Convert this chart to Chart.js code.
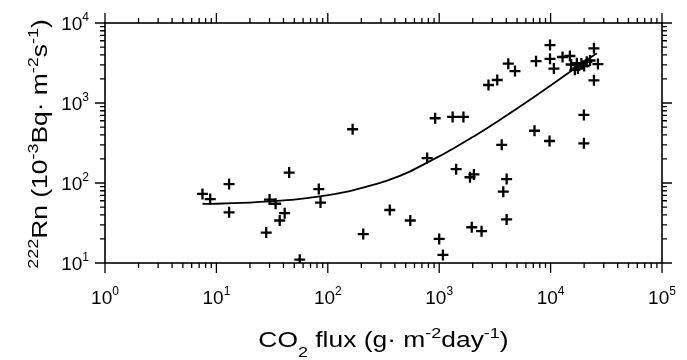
<!DOCTYPE html>
<html>
<head>
<meta charset="utf-8">
<script src="https://cdn.jsdelivr.net/npm/chart.js@4.4.1/dist/chart.umd.min.js"></script>
<style>
  html, body { margin: 0; padding: 0; background: #fff; }
  #wrap { width: 687px; height: 360px; }
</style>
</head>
<body>
<div id="wrap"><canvas id="rnChart" width="687" height="360"></canvas></div>
<script>
// CO2 flux (x) and 222Rn flux (y) of each sample
const fluxX = [7.5, 8.8, 13, 13, 30, 34, 45, 41, 37, 28, 56, 83, 86, 167, 208, 360, 550, 780,
  920, 1320, 1650, 1420, 1000, 1080, 1890, 2050, 1960, 2400, 4030, 3760, 4030, 3640, 2770,
  3320, 4170, 4790, 7170, 7400, 9880, 9880, 10700, 9780, 12800, 14900, 15300, 17600, 18900,
  21100, 22600, 24500, 26600, 24500, 19900, 19900, 17200, 16500, 20000];
const radonY = [73, 63, 97, 43, 62, 55, 135, 42, 34, 24, 11, 84, 57, 470, 23, 46, 34, 205,
  645, 670, 670, 149, 20, 12.6, 118, 128, 28, 25, 112, 78, 35, 300, 1680,
  1940, 3100, 2510, 450, 3330, 5300, 3570, 2690, 335, 3760, 3870, 3030, 2700, 3120,
  3280, 3400, 4830, 3070, 1920, 710, 313, 3140, 2600, 2900];

// fitted curve
const fitX = [7.5, 10, 20, 30, 50, 85, 150, 250, 360, 550, 780, 1000, 1400, 2000, 3000,
  3600, 5000, 7000, 10000, 14000, 20000, 26000];
const fitY = [55, 55, 57, 59, 62, 68, 78, 94, 110, 140, 180, 215, 280, 375, 535,
  630, 855, 1175, 1650, 2300, 3250, 4200];

// decade exponents used for tick labels
const xExps = [0, 1, 2, 3, 4, 5];
const yExps = [1, 2, 3, 4];

const FONT = '"Liberation Sans", Arial, sans-serif';

// draw text made of runs (normal / sup / sub), stretched horizontally
function drawRich(ctx, runs, x, y, size, stretch, align) {
  const small = Math.round(size * 0.7);
  ctx.save();
  ctx.translate(x, y);
  ctx.scale(stretch, 1);
  let total = 0;
  runs.forEach(r => {
    ctx.font = (r.sup || r.sub ? small : size) + "px " + FONT;
    r.w = ctx.measureText(r.t).width;
    total += r.w;
  });
  let cx = align === "center" ? -total / 2 : align === "right" ? -total : 0;
  ctx.textAlign = "left";
  ctx.textBaseline = "alphabetic";
  runs.forEach(r => {
    ctx.font = (r.sup || r.sub ? small : size) + "px " + FONT;
    const dy = r.sup ? -size * 0.42 : r.sub ? size * 0.45 : 0;
    ctx.fillText(r.t, cx, dy);
    cx += r.w;
  });
  ctx.restore();
}

const frameAxes = {
  id: "frameAxes",
  afterDraw(chart) {
    const ctx = chart.ctx;
    const { left, right, top, bottom } = chart.chartArea;
    const xs = chart.scales.x;
    const ys = chart.scales.y;
    ctx.save();
    ctx.strokeStyle = "#000";
    ctx.fillStyle = "#000";
    ctx.lineWidth = 1.6;
    ctx.strokeRect(left, top, right - left, bottom - top);

    ctx.lineWidth = 1.3;
    ctx.beginPath();
    // x ticks, bottom + top, pointing out
    for (let d = xExps[0]; d <= xExps[xExps.length - 1]; d++) {
      for (let m = 1; m <= 9; m++) {
        if (d === xExps[xExps.length - 1] && m > 1) break;
        const px = xs.getPixelForValue(m * Math.pow(10, d));
        const len = m === 1 ? 10 : 5;
        ctx.moveTo(px, bottom); ctx.lineTo(px, bottom + len);
        ctx.moveTo(px, top); ctx.lineTo(px, top - len);
      }
    }
    // y ticks, left + right
    for (let d = yExps[0]; d <= yExps[yExps.length - 1]; d++) {
      for (let m = 1; m <= 9; m++) {
        if (d === yExps[yExps.length - 1] && m > 1) break;
        const py = ys.getPixelForValue(m * Math.pow(10, d));
        const len = m === 1 ? 10 : 5;
        ctx.moveTo(left, py); ctx.lineTo(left - len, py);
        ctx.moveTo(right, py); ctx.lineTo(right + len, py);
      }
    }
    ctx.stroke();

    // tick labels 10^n
    xExps.forEach(e => {
      const px = xs.getPixelForValue(Math.pow(10, e));
      ctx.font = "19px " + FONT;
      const wb = ctx.measureText("10").width;
      ctx.font = "12px " + FONT;
      const we = ctx.measureText(String(e)).width;
      const x0 = px - (wb + we) / 2;
      ctx.textAlign = "left";
      ctx.font = "19px " + FONT;
      ctx.fillText("10", x0, bottom + 41);
      ctx.font = "12px " + FONT;
      ctx.fillText(String(e), x0 + wb, bottom + 32);
    });
    yExps.forEach(e => {
      const py = ys.getPixelForValue(Math.pow(10, e));
      ctx.font = "12px " + FONT;
      const we = ctx.measureText(String(e)).width;
      ctx.font = "19px " + FONT;
      const wb = ctx.measureText("10").width;
      const x0 = left - 16 - we - wb;
      ctx.textAlign = "left";
      ctx.fillText("10", x0, py + 7);
      ctx.font = "12px " + FONT;
      ctx.fillText(String(e), x0 + wb, py - 2);
    });

    // axis titles
    drawRich(ctx, [
      { t: "CO" }, { t: "2", sub: true }, { t: " flux (g\u00b7 m" }, { t: "-2", sup: true },
      { t: "day" }, { t: "-1", sup: true }, { t: ")" }
    ], (left + right) / 2, 347, 22, 1.2, "center");

    ctx.save();
    ctx.translate(47, 144);
    ctx.rotate(-Math.PI / 2);
    drawRich(ctx, [
      { t: "222", sup: true }, { t: "Rn (10" }, { t: "-3", sup: true }, { t: "Bq\u00b7 m" },
      { t: "-2", sup: true }, { t: "s" }, { t: "-1", sup: true }, { t: ")" }
    ], 0, 0, 22, 1.2, "center");
    ctx.restore();
    ctx.restore();
  }
};

const samplePoints = fluxX.map((v, i) => ({ x: v, y: radonY[i] }));
const fitPoints = fitX.map((v, i) => ({ x: v, y: fitY[i] }));

new Chart(document.getElementById("rnChart"), {
  type: "scatter",
  data: {
    datasets: [
      {
        label: "fit",
        data: fitPoints,
        showLine: true,
        borderColor: "#000",
        borderWidth: 1.8,
        pointRadius: 0,
        tension: 0.2,
      },
      {
        label: "samples",
        data: samplePoints,
        pointStyle: "cross",
        pointRadius: 5.5,
        borderColor: "#000",
        borderWidth: 2.3,
      },
    ],
  },
  options: {
    responsive: false,
    animation: false,
    devicePixelRatio: 1,
    layout: { padding: { left: 105, right: 25, top: 23, bottom: 97 } },
    plugins: { legend: { display: false }, tooltip: { enabled: false } },
    scales: {
      x: { type: "logarithmic", min: 1, max: 100000, display: false },
      y: { type: "logarithmic", min: 10, max: 10000, display: false },
    },
  },
  plugins: [frameAxes],
});
</script>
</body>
</html>
